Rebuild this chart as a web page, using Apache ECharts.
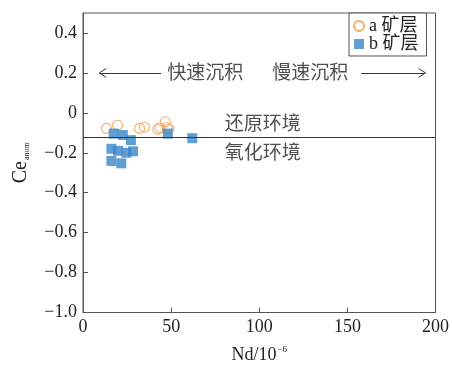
<!DOCTYPE html>
<html>
<head>
<meta charset="utf-8">
<script src="https://cdn.jsdelivr.net/npm/echarts@6/dist/echarts.min.js"></script>
<style>html,body{margin:0;padding:0;background:#fff}#c{width:452px;height:369px}</style>
</head>
<body>
<div id="c"></div>
<script>
// Data
var seriesAName = 'a 矿层';
var seriesBName = 'b 矿层';
var seriesA = [[13.3,-0.078],[19.6,-0.062],[32.1,-0.078],[34.9,-0.071],[42.4,-0.082],[43.7,-0.075],[46.7,-0.045],[47.7,-0.075],[48.8,-0.082]];
var seriesB = [[17.4,-0.104],[22.6,-0.111],[27.2,-0.137],[16.1,-0.180],[19.9,-0.190],[28.4,-0.193],[24.6,-0.200],[16.1,-0.241],[21.7,-0.253],[48.1,-0.104],[62.0,-0.127]];
var boundaryY = -0.12;
var xTicks = [0, 50, 100, 150, 200];
var yTicks = [-1.0, -0.8, -0.6, -0.4, -0.2, 0, 0.2, 0.4];
var annotations = [
  {name:'快速沉积', value:[69.3, 0.204]},
  {name:'慢速沉积', value:[128.9, 0.204]},
  {name:'还原环境', value:[102, -0.048]},
  {name:'氧化环境', value:[102, -0.197]}
];
// arrow segments: [x1,y1,x2,y2]
var arrowSegments = [
  [9.3,0.2,44.3,0.2],[9.3,0.2,13.2,0.222],[9.3,0.2,13.2,0.178],
  [157.8,0.2,194.3,0.2],[194.3,0.2,190.4,0.222],[194.3,0.2,190.4,0.178]
];

var serif = "'Liberation Serif','Noto Sans CJK SC'";
var cjk = "'Noto Sans CJK SC'";
function fmtY(v){
  if (Math.abs(v) < 1e-9) return '0';
  if (v > 0.45) return '';
  return (v < 0 ? '\u2212' : '') + Math.abs(v).toFixed(1);
}
var chart = echarts.init(document.getElementById('c'));
chart.setOption({
  animation: false,
  grid: {left: 83, right: 12, top: 13, bottom: 53, show: true, borderColor: '#555', borderWidth: 1},
  legend: {
    left: 349, top: 13, orient: 'vertical',
    data: [seriesAName, seriesBName],
    backgroundColor: '#fff', borderColor: '#555', borderWidth: 1,
    padding: [4, 8, 3, 4], itemGap: 0, itemWidth: 10, itemHeight: 10,
    textStyle: {fontFamily: serif, fontSize: 18, color: '#222'}
  },
  xAxis: {
    type: 'value', min: 0, max: 200, interval: 50,
    name: '{a|Nd/10}{b|\u22126}', nameLocation: 'middle', nameGap: 33,
    nameTextStyle: {rich: {a: {fontFamily: serif, fontSize: 18, color: '#222'}, b: {fontFamily: serif, fontSize: 9, color: '#222', verticalAlign: 'top', padding: [0,0,10,1]}}},
    axisLine: {onZero: false, lineStyle: {color: '#555'}},
    axisTick: {inside: true, length: 5, lineStyle: {color: '#555'}},
    axisLabel: {fontFamily: serif, fontSize: 18, color: '#222', margin: 6, formatter: function(v){return String(v);}},
    splitLine: {show: false}
  },
  yAxis: {
    type: 'value', min: -1, max: 0.5, interval: 0.2,
    name: '{a|Ce}{b|anom}', nameLocation: 'middle', nameGap: 52, nameRotate: 90,
    nameTextStyle: {rich: {a: {fontFamily: serif, fontSize: 20, color: '#222'}, b: {fontFamily: serif, fontSize: 8, color: '#222', padding: [12,0,0,1]}}},
    axisLine: {onZero: false, lineStyle: {color: '#555'}},
    axisTick: {inside: true, length: 5, lineStyle: {color: '#555'}},
    axisLabel: {fontFamily: serif, fontSize: 18, color: '#222', margin: 6, formatter: fmtY, showMaxLabel: false},
    splitLine: {show: false}
  },
  series: [
    {
      name: 'guides', type: 'scatter', data: [], silent: true,
      markLine: {
        silent: true, symbol: 'none', animation: false,
        label: {show: false},
        lineStyle: {color: '#333', width: 1, type: 'solid'},
        data: [{yAxis: boundaryY}].concat(arrowSegments.map(function(s){
          return [{coord: [s[0], s[1]]}, {coord: [s[2], s[3]]}];
        }))
      }
    },
    {
      name: 'notes', type: 'scatter', data: annotations, symbolSize: 0, silent: true,
      label: {show: true, position: 'inside', formatter: '{b}', fontFamily: cjk, fontSize: 19, color: '#222'}
    },
    {
      name: seriesAName, type: 'scatter', data: seriesA, symbol: 'circle', symbolSize: 10,
      itemStyle: {color: 'rgba(255,255,255,0)', borderColor: '#f39a45', borderWidth: 1.1}
    },
    {
      name: seriesBName, type: 'scatter', data: seriesB, symbol: 'rect', symbolSize: 10,
      itemStyle: {color: '#3a87c8'}
    }
  ]
});
</script>
</body>
</html>
